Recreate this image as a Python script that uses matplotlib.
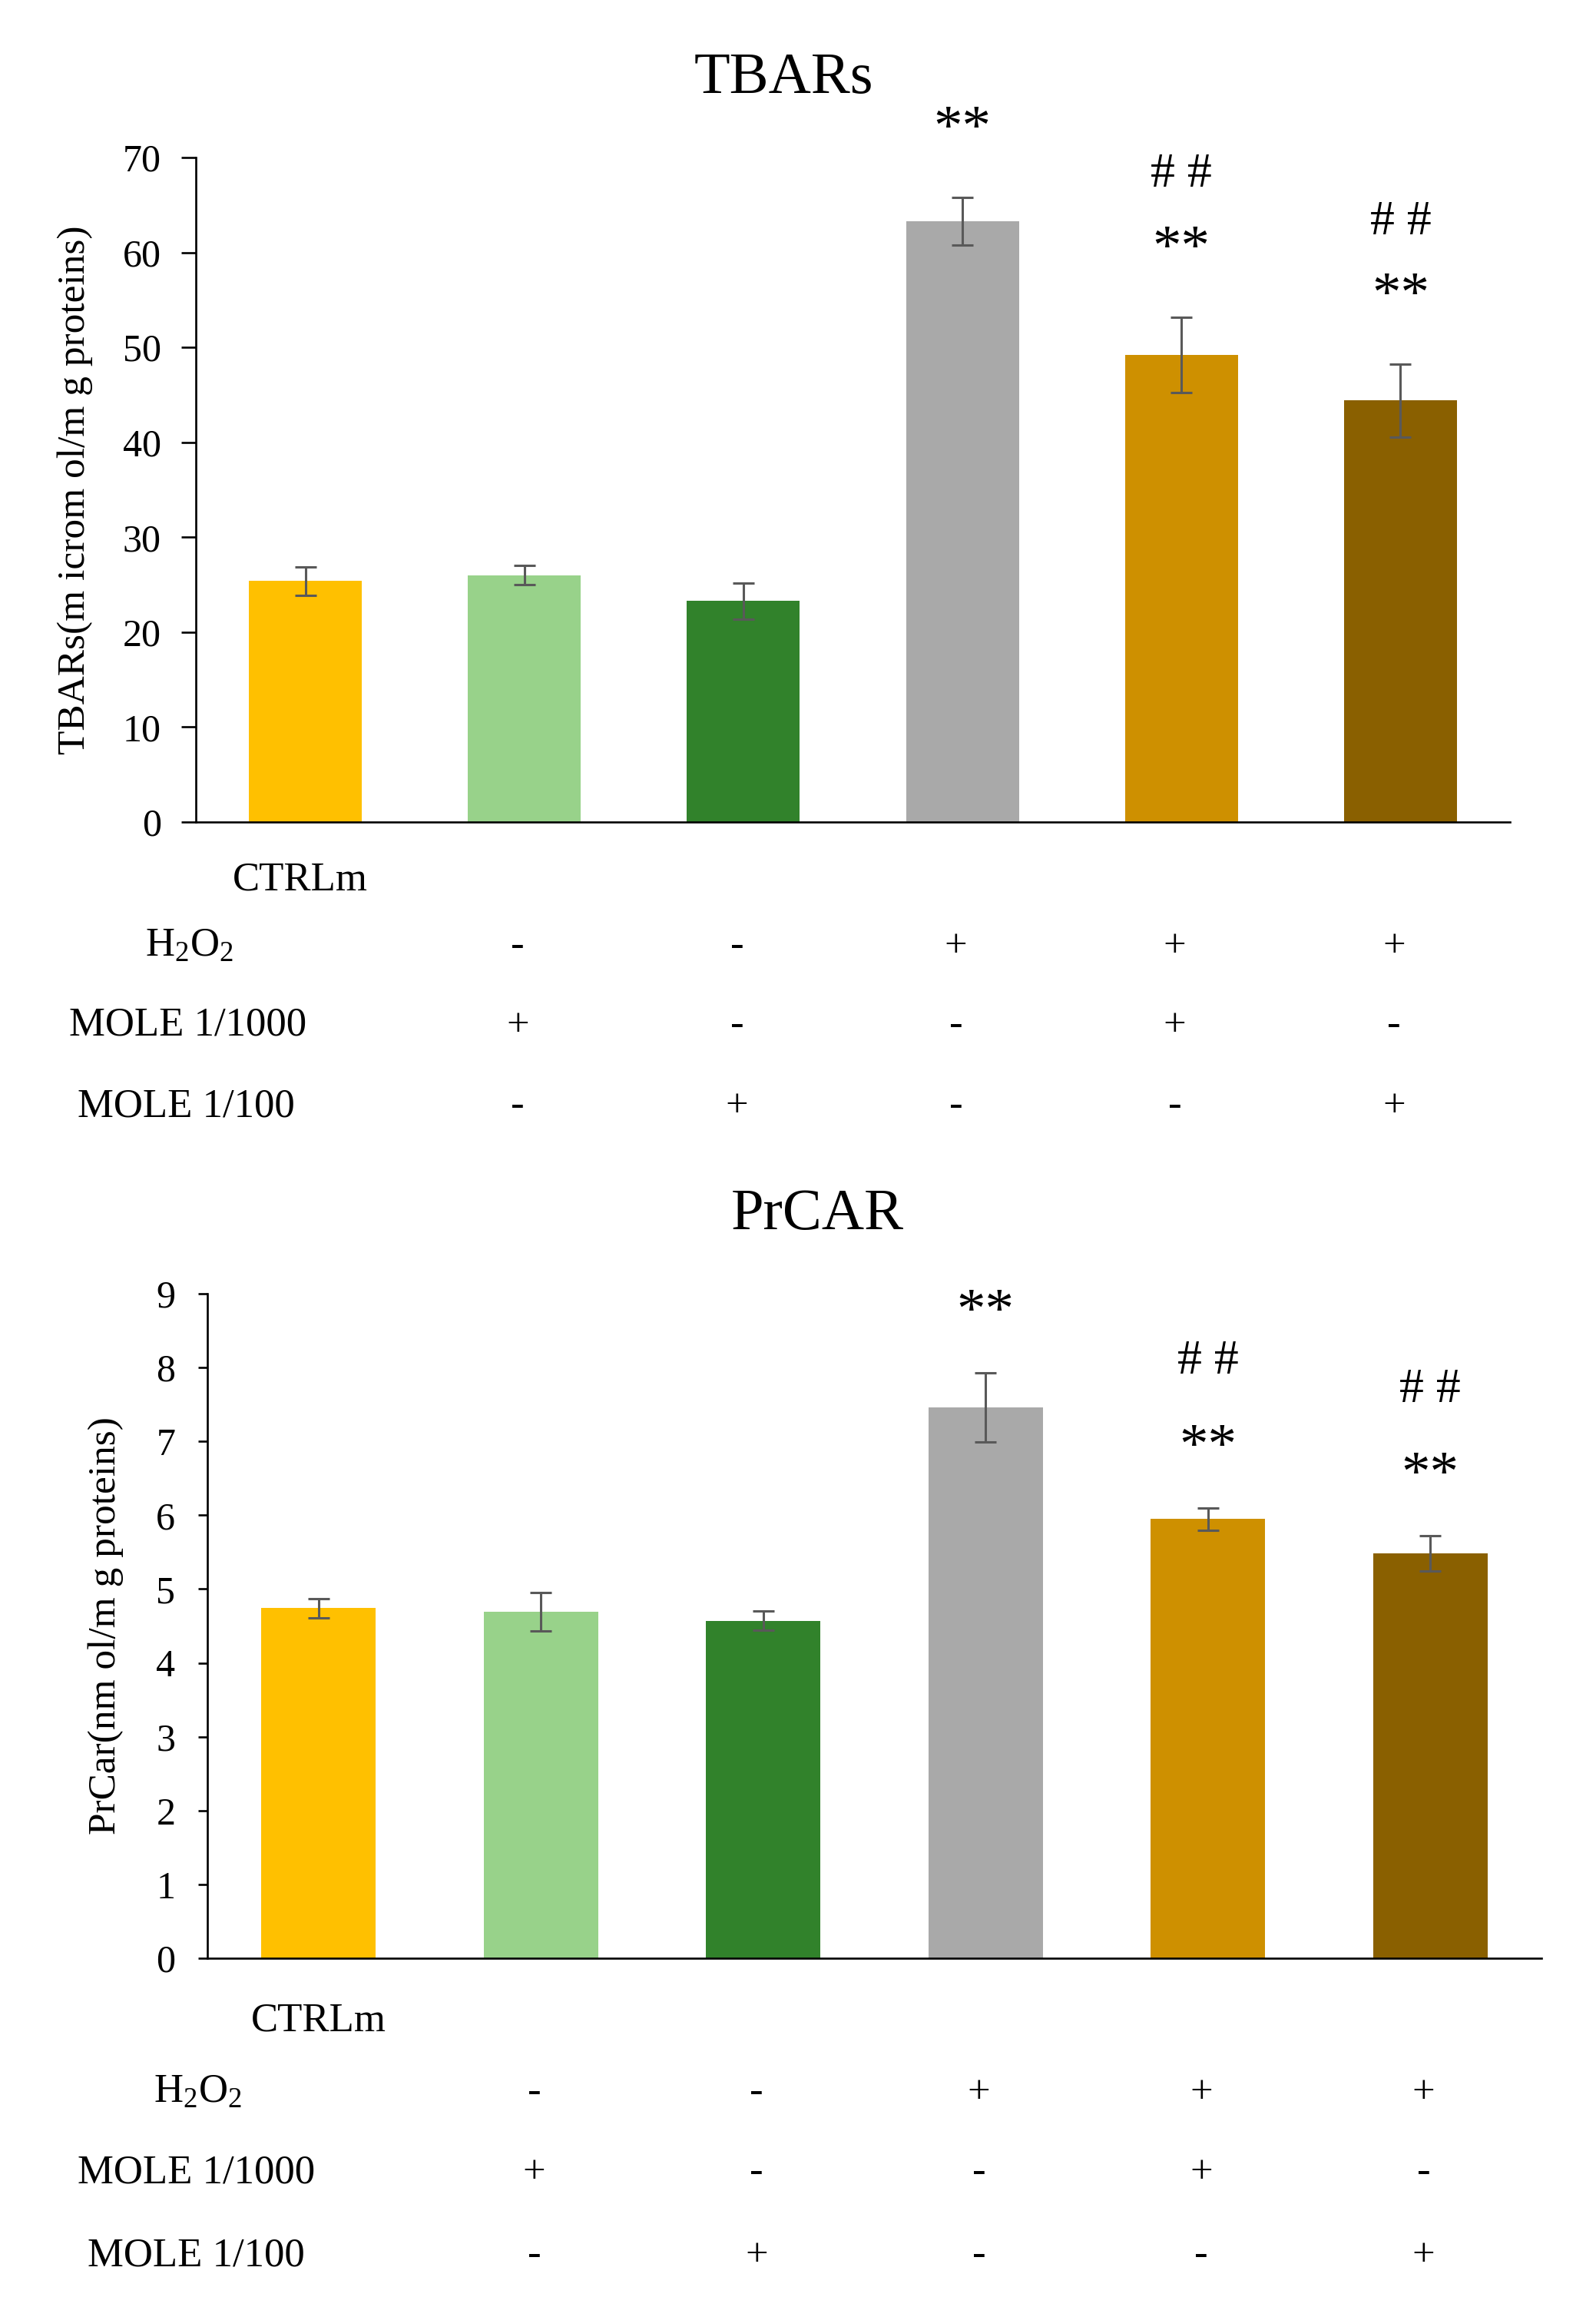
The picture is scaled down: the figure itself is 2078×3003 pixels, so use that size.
import numpy as np
import matplotlib
matplotlib.use("Agg")
import matplotlib.pyplot as plt
from matplotlib.transforms import blended_transform_factory

plt.rcParams['font.family'] = ['Liberation Serif', 'DejaVu Serif']

# bar colours, one per group (CTRLm, MOLE 1/1000, MOLE 1/100, H2O2, H2O2+MOLE 1/1000, H2O2+MOLE 1/100)
colors = ['#FFC000', '#98D28A', '#31822B', '#A9A9A9', '#CE9000', '#8A6000']

# TBARs panel
tbars_mean = [25.4, 26.0, 23.3, 63.3, 49.2, 44.4]
tbars_err = [1.5, 1.0, 1.9, 2.5, 4.0, 3.85]
tbars_stars = ['', '', '', '**', '**', '**']
tbars_hash = ['', '', '', '', '# #', '# #']

# PrCAR panel
prcar_mean = [4.74, 4.69, 4.57, 7.46, 5.95, 5.48]
prcar_err = [0.13, 0.26, 0.13, 0.47, 0.15, 0.24]
prcar_stars = ['', '', '', '**', '**', '**']
prcar_hash = ['', '', '', '', '# #', '# #']

# treatment table under the bars (columns = groups 2..6)
row_names = ['$\\mathregular{H_2O_2}$', 'MOLE 1/1000', 'MOLE 1/100']
h2o2 = ['-', '-', '+', '+', '+']
mole1000 = ['+', '-', '-', '+', '-']
mole100 = ['-', '+', '-', '-', '+']
ctrl_name = 'CTRLm'

W, H = 2078, 3003
fig = plt.figure(figsize=(W / 100, H / 100), dpi=100)


def fy(px):
    return 1 - px / H


def panel(box, mean, err, stars, hashes, ylim, yticks, ylabel, title, tpos,
          lab_x, star_pad, hash_step, rows_y, row_x, ctrl_x, tick_len, tick_pad):
    l, t, r, b = box
    ax = fig.add_axes([l / W, fy(b), (r - l) / W, (b - t) / H])
    x = np.arange(len(mean))
    ax.bar(x, mean, width=0.515, color=colors, zorder=1)
    ax.errorbar(x, mean, yerr=err, fmt='none', ecolor='#595959',
                elinewidth=2.2, capsize=10, capthick=2.2, zorder=3)
    for xi, m, e, s, h in zip(x, mean, err, stars, hashes):
        ys = m + e + star_pad
        if s:
            ax.text(xi, ys, s, ha='center', va='center', fontsize=54, clip_on=False)
        if h:
            ax.text(xi, ys + hash_step, h, ha='center', va='center', fontsize=46, clip_on=False)
    ax.set_xlim(-0.5, 5.5)
    ax.set_ylim(*ylim)
    ax.set_yticks(yticks)
    ax.set_xticks([])
    for side in ['top', 'right']:
        ax.spines[side].set_visible(False)
    for side in ['left', 'bottom']:
        ax.spines[side].set_linewidth(1.9)
        ax.spines[side].set_color('black')
    ax.tick_params(axis='y', labelsize=36, length=tick_len, width=1.9, pad=tick_pad)
    ax.set_ylabel(ylabel, fontsize=37)
    ax.yaxis.set_label_coords((lab_x - l) / (r - l), 0.5)
    fig.text(tpos[0] / W, fy(tpos[1]), title, ha='center', va='baseline', fontsize=55)

    # table of treatments
    trans = blended_transform_factory(ax.transData, fig.transFigure)
    fig.text(ctrl_x / W, fy(rows_y[0]), ctrl_name, ha='center', va='center', fontsize=38)
    for name, signs, yy, xx in zip(row_names, [h2o2, mole1000, mole100], rows_y[1:], row_x):
        fig.text(xx / W, fy(yy), name, ha='center', va='center', fontsize=38)
        for xi, sg in zip(x[1:], signs):
            ax.text(xi - 0.03, fy(yy), sg, transform=trans, ha='center', va='center',
                    fontsize=38, clip_on=False)
    return ax


panel((255, 205, 1966, 1070), tbars_mean, tbars_err, tbars_stars, tbars_hash,
      (0, 70), np.arange(0, 71, 10), 'TBARs(m icrom ol/m g proteins)', 'TBARs',
      (1020, 121), 121, 7.0, 7.9, [1146, 1232, 1335, 1440], [247, 245, 242], 391,
      13.5, 19)

panel((270, 1684, 2007, 2549), prcar_mean, prcar_err, prcar_stars, prcar_hash,
      (0, 9), np.arange(0, 10, 1), 'PrCar(nm ol/m g proteins)', 'PrCAR',
      (1064, 1600), 161, 0.8, 1.17, [2630, 2724, 2828, 2936], [258, 256, 255], 415,
      9, 21)

fig.savefig('out.png', dpi=100, facecolor='white')
